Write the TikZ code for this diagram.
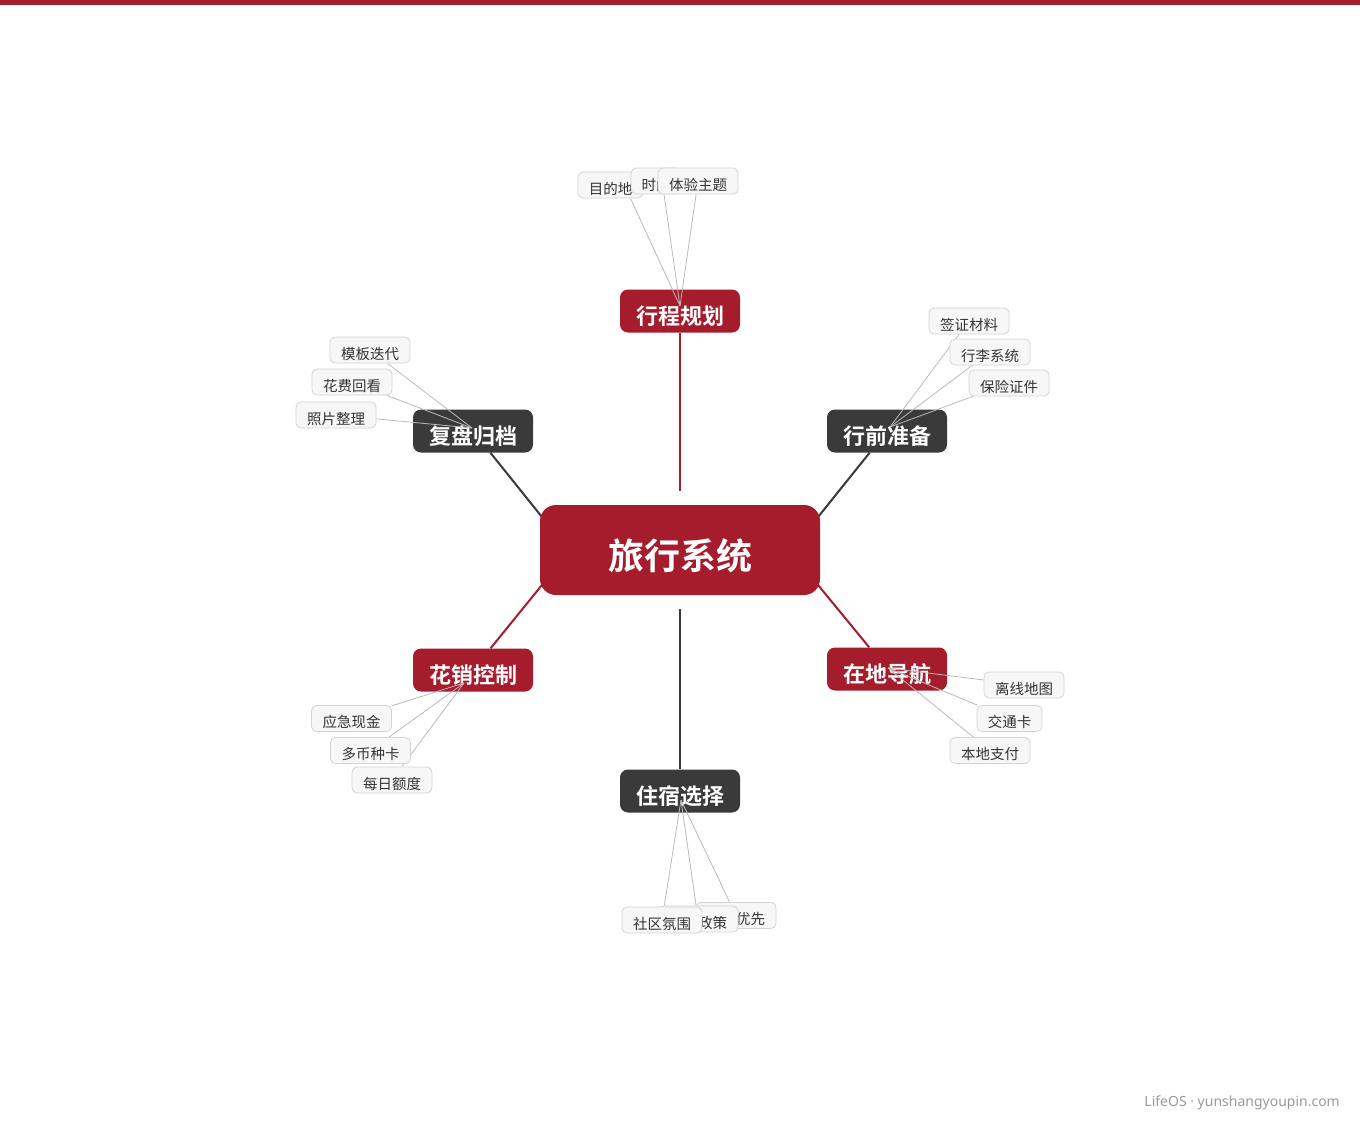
\documentclass[tikz,border=0pt]{standalone}
\usepackage{fontspec}
\setmainfont{Noto Sans CJK SC}[BoldFont={Noto Sans CJK SC Bold}]
\newfontfamily\footfont{Noto Sans}
\usetikzlibrary{calc}
\definecolor{brandred}{HTML}{A51C2C}
\definecolor{darkbox}{HTML}{3A3A3A}
\definecolor{leaffill}{HTML}{F7F7F7}
\definecolor{leafdraw}{HTML}{D4D4D4}
\definecolor{leaftext}{HTML}{333333}
\definecolor{leafline}{HTML}{BBBBBB}
\definecolor{foottext}{HTML}{9A9A9A}
\pgfdeclarelayer{bgl}
\pgfdeclarelayer{bg}
\pgfdeclarelayer{mid}
\pgfsetlayers{bgl,bg,mid,main}
\tikzset{
  cjkbox/.style={inner sep=0pt, text depth=0pt, align=center},
  centerbox/.style={cjkbox, text height=38.5pt, fill=brandred, rounded corners=16pt, minimum width=280pt, minimum height=90pt,
    text=white, font=\fontsize{36}{40}\selectfont\bfseries},
  branchbox/.style={cjkbox, text height=26.5pt, rounded corners=8pt, minimum width=120pt, minimum height=43pt,
    text=white, font=\fontsize{22}{26}\selectfont\bfseries},
  redbranch/.style={branchbox, fill=brandred},
  darkbranch/.style={branchbox, fill=darkbox},
  leafbox/.style={cjkbox, text height=18.8pt, fill=leaffill, draw=leafdraw, line width=0.8pt, rounded corners=5pt,
    minimum height=26pt, text=leaftext, font=\fontsize{14.5}{17}\selectfont},
  leaf4/.style={leafbox, minimum width=80pt},
  leaf3/.style={leafbox, minimum width=65pt},
  leaf2/.style={leafbox, minimum width=50pt},
  redlink/.style={draw=brandred, line width=2pt},
  darklink/.style={draw=darkbox, line width=2pt},
  leaflink/.style={draw=leafline, line width=0.8pt},
}
\begin{document}
\begin{tikzpicture}[x=1pt,y=-1pt]
\useasboundingbox (0,0) rectangle (1360,1120);

\begin{pgfonlayer}{bg}
\node[centerbox] (ctr) at (680,550) {旅行系统};
\node[redbranch]  (b1) at (680,311) {行程规划};
\node[darkbranch] (b2) at (887,431) {行前准备};
\node[redbranch]  (b3) at (887,669) {在地导航};
\node[darkbranch] (b4) at (680,791) {住宿选择};
\node[redbranch]  (b5) at (473,670) {花销控制};
\node[darkbranch] (b6) at (473,431) {复盘归档};
\end{pgfonlayer}

\begin{pgfonlayer}{bgl}
\fill[white] (0,0) rectangle (1360,1120);
\fill[brandred] (0,0) rectangle (1360,5);
\draw[redlink, shorten <=14pt] (ctr.north) -- (b1);
\draw[darklink, shorten <=14pt] (ctr.south) -- (b4);
\draw[darklink] ($(ctr.north east)+(-2,12)$) -- (b2);
\draw[redlink]  ($(ctr.south east)+(-2,-10)$) -- (b3);
\draw[redlink]  ($(ctr.south west)+(2,-10)$) -- (b5);
\draw[darklink] ($(ctr.north west)+(2,12)$) -- (b6);
\end{pgfonlayer}

% convergence points
\coordinate (p1) at (680,306);
\coordinate (p2) at (890,427);
\coordinate (p3) at (888,668);
\coordinate (p4) at (681,800);
\coordinate (p5) at (464,683);
\coordinate (p6) at (472,428);

% leaves: 行程规划
\node[leaf3] (l11) at (610.5,185) {目的地};
\node[leaf2] (l12) at (656,181) {时间};
\node[leaf4] (l13) at (698,181) {体验主题};
% 行前准备
\node[leaf4] (l21) at (969,321) {签证材料};
\node[leaf4] (l22) at (990,352) {行李系统};
\node[leaf4] (l23) at (1009,383) {保险证件};
% 在地导航
\node[leaf4] (l31) at (1024,685) {离线地图};
\node[leaf3] (l32) at (1009.5,718.5) {交通卡};
\node[leaf4] (l33) at (990,750.5) {本地支付};
% 住宿选择
\node[leaf4] (l43) at (736,915.5) {位置优先};
\node[leaf4] (l42) at (698,919) {退改政策};
\node[leaf4] (l41) at (662,920) {社区氛围};
% 花销控制
\node[leaf4] (l51) at (351.5,718.5) {应急现金};
\node[leaf4] (l52) at (370.5,750.5) {多币种卡};
\node[leaf4] (l53) at (392,780) {每日额度};
% 复盘归档
\node[leaf4] (l61) at (370,350) {模板迭代};
\node[leaf4] (l62) at (352,382) {花费回看};
\node[leaf4] (l63) at (336,415) {照片整理};

\begin{pgfonlayer}{mid}
\draw[leaflink] ($(l11.south)+(20,0)$) -- (p1);
\draw[leaflink] ($(l12.south)+(8,0)$) -- (p1);
\draw[leaflink] (l13) -- (p1);
\draw[leaflink] (l21) -- (p2);
\draw[leaflink] (l22) -- (p2);
\draw[leaflink] (l23) -- (p2);
\draw[leaflink] (l31) -- (p3);
\draw[leaflink] (l32) -- (p3);
\draw[leaflink] (l33) -- (p3);
\draw[leaflink] (l41) -- (p4);
\draw[leaflink] (l42) -- (p4);
\draw[leaflink] (l43) -- (p4);
\draw[leaflink] (l51) -- (p5);
\draw[leaflink] (l52) -- (p5);
\draw[leaflink] (l53) -- (p5);
\draw[leaflink] (l61) -- (p6);
\draw[leaflink] (l62) -- (p6);
\draw[leaflink] (l63) -- (p6);
\end{pgfonlayer}

\node[anchor=east, inner sep=0pt, text=foottext, font=\footfont\fontsize{14}{16}\selectfont] (foot) at (1340,1103) {LifeOS · yunshangyoupin.com};
\end{tikzpicture}
\end{document}
